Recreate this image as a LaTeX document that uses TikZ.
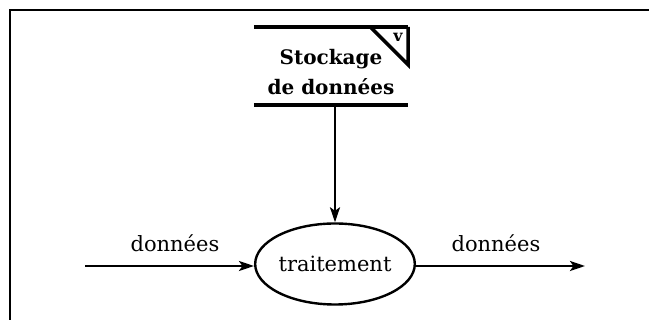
\documentclass[tikz,border=0pt]{standalone}
\usepackage{fontspec}
\setmainfont{DejaVu Serif}
\usetikzlibrary{arrows.meta,shapes.geometric}
\begin{document}
\begin{tikzpicture}[x=1pt,y=-1pt,
  flow/.style={line width=2.4pt,-{Stealth[length=15pt,width=10pt,inset=3.5pt]}},
  lbl/.style={font=\fontsize{21}{25}\selectfont, inner sep=0pt},
  bar/.style={line width=4.5pt}]
\useasboundingbox (0,0) rectangle (649,320);
\draw[line width=2.6pt] (10,320) -- (10,10) -- (649,10);
% data store
\node[minimum width=154pt, minimum height=78pt, inner sep=0pt] (store) at (331,66) {};
\draw[bar] (store.north west) -- (store.north east);
\draw[bar] (store.south west) -- (store.south east);
\draw[line width=3.5pt, line join=miter] ([xshift=-38pt]store.north east) -- ([yshift=-38pt]store.north east) -- (store.north east);
\node[font=\fontsize{16}{18}\selectfont\bfseries, inner sep=0pt] (v) at (398,37) {v};
\node[lbl, font=\fontsize{20}{30}\selectfont\bfseries, align=center] (storetext) at (331,72) {Stockage\\de données};
% process
\node[ellipse, draw, line width=2.4pt, minimum width=153pt, minimum height=81pt, inner sep=0pt, font=\fontsize{21}{25}\selectfont] (proc) at (335,264) {traitement};
\coordinate (in) at (85,266);
\coordinate (out) at (585,266);
\draw[flow] (store.south -| proc.north) -- (proc.north);
\draw[flow] (in) -- (in -| proc.west);
\draw[flow] (out -| proc.east) -- (out);
\node[lbl] (lin) at (175,243) {données};
\node[lbl] (lout) at (496,243) {données};
\end{tikzpicture}
\end{document}
